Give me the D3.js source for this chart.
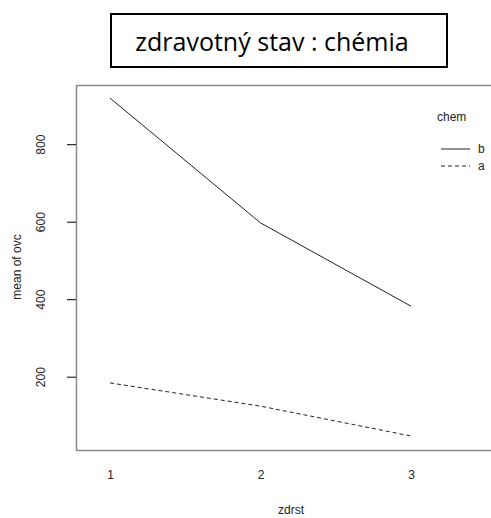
<!DOCTYPE html>
<html>
<head>
<meta charset="utf-8">
<script src="https://cdn.jsdelivr.net/npm/d3@7"></script>
<style>
  body { margin: 0; background: #fff; }
  svg { display: block; }
</style>
</head>
<body>
<div id="chart"></div>
<script>
// data
var levels = [1, 2, 3];
var chemB = [919, 597, 382];
var chemA = [184, 124, 47];
var yTicks = [200, 400, 600, 800];
var legendLabels = ["b", "a"];

var W = 491, H = 518;
var box = { left: 76, top: 85, right: 500, bottom: 450 };

var svg = d3.select("#chart").append("svg")
    .attr("width", W)
    .attr("height", H);

var x = d3.scaleLinear()
    .domain([1, 3])
    .range([110, 411]);

var y = d3.scaleLinear()
    .domain([200, 800])
    .range([376.7, 144.2]);

// title box
svg.append("rect")
    .attr("x", 111).attr("y", 14)
    .attr("width", 336).attr("height", 53)
    .attr("fill", "none")
    .attr("stroke", "#000")
    .attr("stroke-width", 2);
svg.append("text")
    .attr("x", 272).attr("y", 51)
    .attr("text-anchor", "middle")
    .style("font-family", "'Open Sans', sans-serif")
    .style("font-size", "25px")
    .text("zdravotný stav : chémia");

// plot frame (runs off the right edge)
svg.append("rect")
    .attr("x", box.left + 0.5).attr("y", box.top + 0.5)
    .attr("width", box.right - box.left).attr("height", box.bottom - box.top)
    .attr("fill", "none")
    .attr("stroke", "#8a8a8a")
    .attr("stroke-width", 1.5);

// y axis
var yAxis = svg.append("g")
    .attr("transform", "translate(" + box.left + ",0)")
    .call(d3.axisLeft(y).tickValues(yTicks).tickSize(9));
yAxis.select(".domain").remove();
yAxis.selectAll("line").attr("stroke", "#000");
yAxis.selectAll("text")
    .attr("x", 0)
    .attr("y", 0)
    .attr("dy", "0.35em")
    .attr("transform", "translate(-35,0) rotate(-90)")
    .attr("text-anchor", "middle")
    .attr("fill", "#222")
    .style("font-family", "'Liberation Sans', Arial, sans-serif")
    .style("font-size", "12px");

// x axis: labels only
var xAxis = svg.append("g")
    .attr("transform", "translate(0," + box.bottom + ")")
    .call(d3.axisBottom(x).tickValues(levels).tickFormat(d3.format("d")).tickSize(0).tickPadding(20));
xAxis.select(".domain").remove();
xAxis.selectAll("text")
    .attr("fill", "#222")
    .style("font-family", "'Liberation Sans', Arial, sans-serif")
    .style("font-size", "12px");

// axis titles
svg.append("text")
    .attr("transform", "translate(21,267) rotate(-90)")
    .attr("text-anchor", "middle")
    .attr("fill", "#222")
    .style("font-family", "'Liberation Sans', Arial, sans-serif")
    .style("font-size", "12px")
    .text("mean of  ovc");
svg.append("text")
    .attr("x", 291).attr("y", 514)
    .attr("text-anchor", "middle")
    .attr("fill", "#222")
    .style("font-family", "'Liberation Sans', Arial, sans-serif")
    .style("font-size", "12px")
    .text("zdrst");

// lines
var line = d3.line()
    .x(function(d, i) { return x(levels[i]); })
    .y(function(d) { return y(d); });

svg.append("path")
    .datum(chemB)
    .attr("fill", "none")
    .attr("stroke", "#222")
    .attr("stroke-width", 1)
    .attr("d", line);

svg.append("path")
    .datum(chemA)
    .attr("fill", "none")
    .attr("stroke", "#222")
    .attr("stroke-width", 1)
    .attr("stroke-dasharray", "4,3")
    .attr("d", line);

// legend
var lg = svg.append("g").style("font-family", "'Liberation Sans', Arial, sans-serif").style("font-size", "12px");
lg.append("text").attr("x", 437).attr("y", 121).attr("fill", "#222").text("chem");
legendLabels.forEach(function(lab, i) {
    var ly = 149 + i * 17;
    lg.append("line")
        .attr("x1", 441).attr("x2", 470)
        .attr("y1", ly).attr("y2", ly)
        .attr("stroke", "#222")
        .attr("stroke-dasharray", i === 1 ? "4,3" : null);
    lg.append("text").attr("x", 478).attr("y", ly + 4).attr("fill", "#222").text(lab);
});
</script>
</body>
</html>
